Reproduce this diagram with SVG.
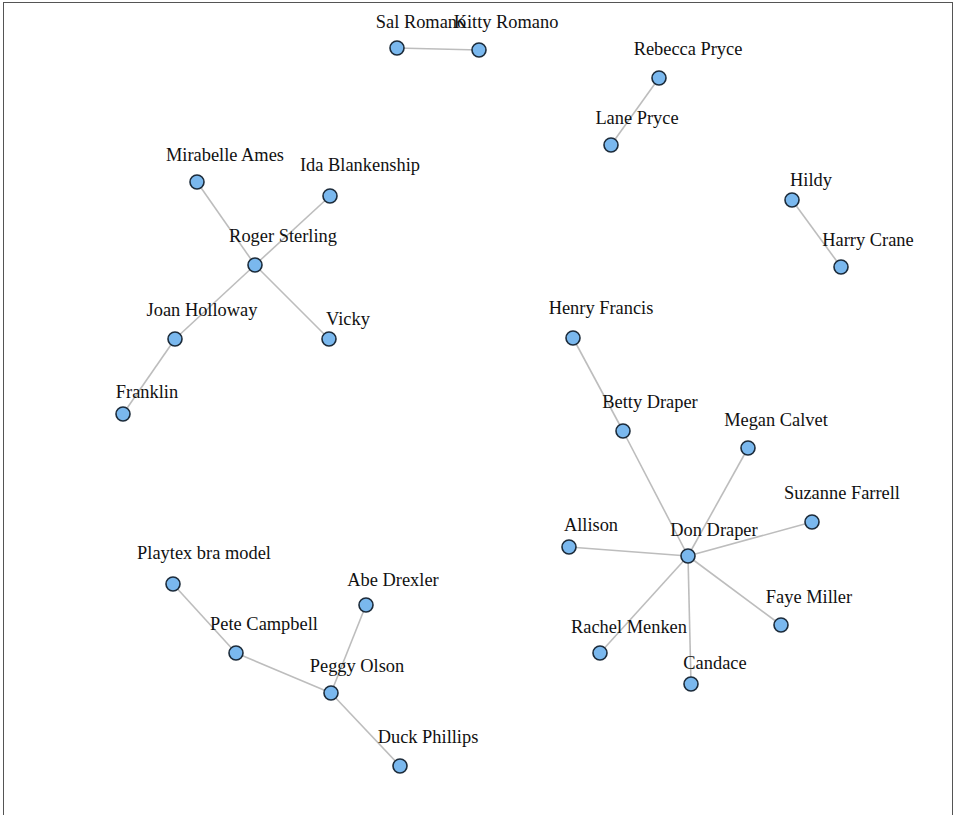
<svg xmlns="http://www.w3.org/2000/svg" width="956" height="815" viewBox="0 0 956 815">
<style>
.e{stroke:#bdbdbd;stroke-width:1.6;fill:none}
.n circle{fill:#7ab8ee;stroke:#1c2b3a;stroke-width:1.6}
.n text{font-family:"Liberation Serif","Times New Roman",serif;font-size:18.4px;fill:#111;text-anchor:middle}
</style>
<rect x="0" y="0" width="956" height="815" fill="#fff"/>
<rect x="3.5" y="2.5" width="949" height="830" fill="none" stroke="#555" stroke-width="1"/>
<g id="edges">
<line class="e" x1="397" y1="48" x2="479" y2="50"/>
<line class="e" x1="659" y1="78" x2="611" y2="145"/>
<line class="e" x1="792" y1="200" x2="841" y2="267"/>
<line class="e" x1="197" y1="182" x2="255" y2="265"/>
<line class="e" x1="330" y1="196" x2="255" y2="265"/>
<line class="e" x1="255" y1="265" x2="175" y2="339"/>
<line class="e" x1="255" y1="265" x2="329" y2="339"/>
<line class="e" x1="175" y1="339" x2="123" y2="414"/>
<line class="e" x1="573" y1="338" x2="623" y2="431"/>
<line class="e" x1="623" y1="431" x2="688" y2="556"/>
<line class="e" x1="748" y1="448" x2="688" y2="556"/>
<line class="e" x1="812" y1="522" x2="688" y2="556"/>
<line class="e" x1="569" y1="547" x2="688" y2="556"/>
<line class="e" x1="781" y1="625" x2="688" y2="556"/>
<line class="e" x1="600" y1="653" x2="688" y2="556"/>
<line class="e" x1="691" y1="684" x2="688" y2="556"/>
<line class="e" x1="173" y1="584" x2="236" y2="653"/>
<line class="e" x1="236" y1="653" x2="331" y2="693"/>
<line class="e" x1="366" y1="605" x2="331" y2="693"/>
<line class="e" x1="331" y1="693" x2="400" y2="766"/>
</g>
<g id="sal" class="n"><circle cx="397" cy="48" r="7"/><text x="421" y="28">Sal Romano</text></g>
<g id="kitty" class="n"><circle cx="479" cy="50" r="7"/><text x="506" y="28">Kitty Romano</text></g>
<g id="rebecca" class="n"><circle cx="659" cy="78" r="7"/><text x="688" y="55">Rebecca Pryce</text></g>
<g id="lane" class="n"><circle cx="611" cy="145" r="7"/><text x="637" y="124">Lane Pryce</text></g>
<g id="hildy" class="n"><circle cx="792" cy="200" r="7"/><text x="811" y="186">Hildy</text></g>
<g id="harry" class="n"><circle cx="841" cy="267" r="7"/><text x="868" y="246">Harry Crane</text></g>
<g id="mirabelle" class="n"><circle cx="197" cy="182" r="7"/><text x="225" y="161">Mirabelle Ames</text></g>
<g id="ida" class="n"><circle cx="330" cy="196" r="7"/><text x="360" y="171">Ida Blankenship</text></g>
<g id="roger" class="n"><circle cx="255" cy="265" r="7"/><text x="283" y="242">Roger Sterling</text></g>
<g id="joan" class="n"><circle cx="175" cy="339" r="7"/><text x="202" y="316">Joan Holloway</text></g>
<g id="vicky" class="n"><circle cx="329" cy="339" r="7"/><text x="348" y="325">Vicky</text></g>
<g id="franklin" class="n"><circle cx="123" cy="414" r="7"/><text x="147" y="398">Franklin</text></g>
<g id="henry" class="n"><circle cx="573" cy="338" r="7"/><text x="601" y="314">Henry Francis</text></g>
<g id="betty" class="n"><circle cx="623" cy="431" r="7"/><text x="650" y="408">Betty Draper</text></g>
<g id="megan" class="n"><circle cx="748" cy="448" r="7"/><text x="776" y="426">Megan Calvet</text></g>
<g id="suzanne" class="n"><circle cx="812" cy="522" r="7"/><text x="842" y="499">Suzanne Farrell</text></g>
<g id="allison" class="n"><circle cx="569" cy="547" r="7"/><text x="591" y="531">Allison</text></g>
<g id="don" class="n"><circle cx="688" cy="556" r="7"/><text x="714" y="536">Don Draper</text></g>
<g id="faye" class="n"><circle cx="781" cy="625" r="7"/><text x="809" y="603">Faye Miller</text></g>
<g id="rachel" class="n"><circle cx="600" cy="653" r="7"/><text x="629" y="633">Rachel Menken</text></g>
<g id="candace" class="n"><circle cx="691" cy="684" r="7"/><text x="715" y="669">Candace</text></g>
<g id="playtex" class="n"><circle cx="173" cy="584" r="7"/><text x="204" y="559">Playtex bra model</text></g>
<g id="abe" class="n"><circle cx="366" cy="605" r="7"/><text x="393" y="586">Abe Drexler</text></g>
<g id="pete" class="n"><circle cx="236" cy="653" r="7"/><text x="264" y="630">Pete Campbell</text></g>
<g id="peggy" class="n"><circle cx="331" cy="693" r="7"/><text x="357" y="672">Peggy Olson</text></g>
<g id="duck" class="n"><circle cx="400" cy="766" r="7"/><text x="428" y="743">Duck Phillips</text></g>
</svg>
